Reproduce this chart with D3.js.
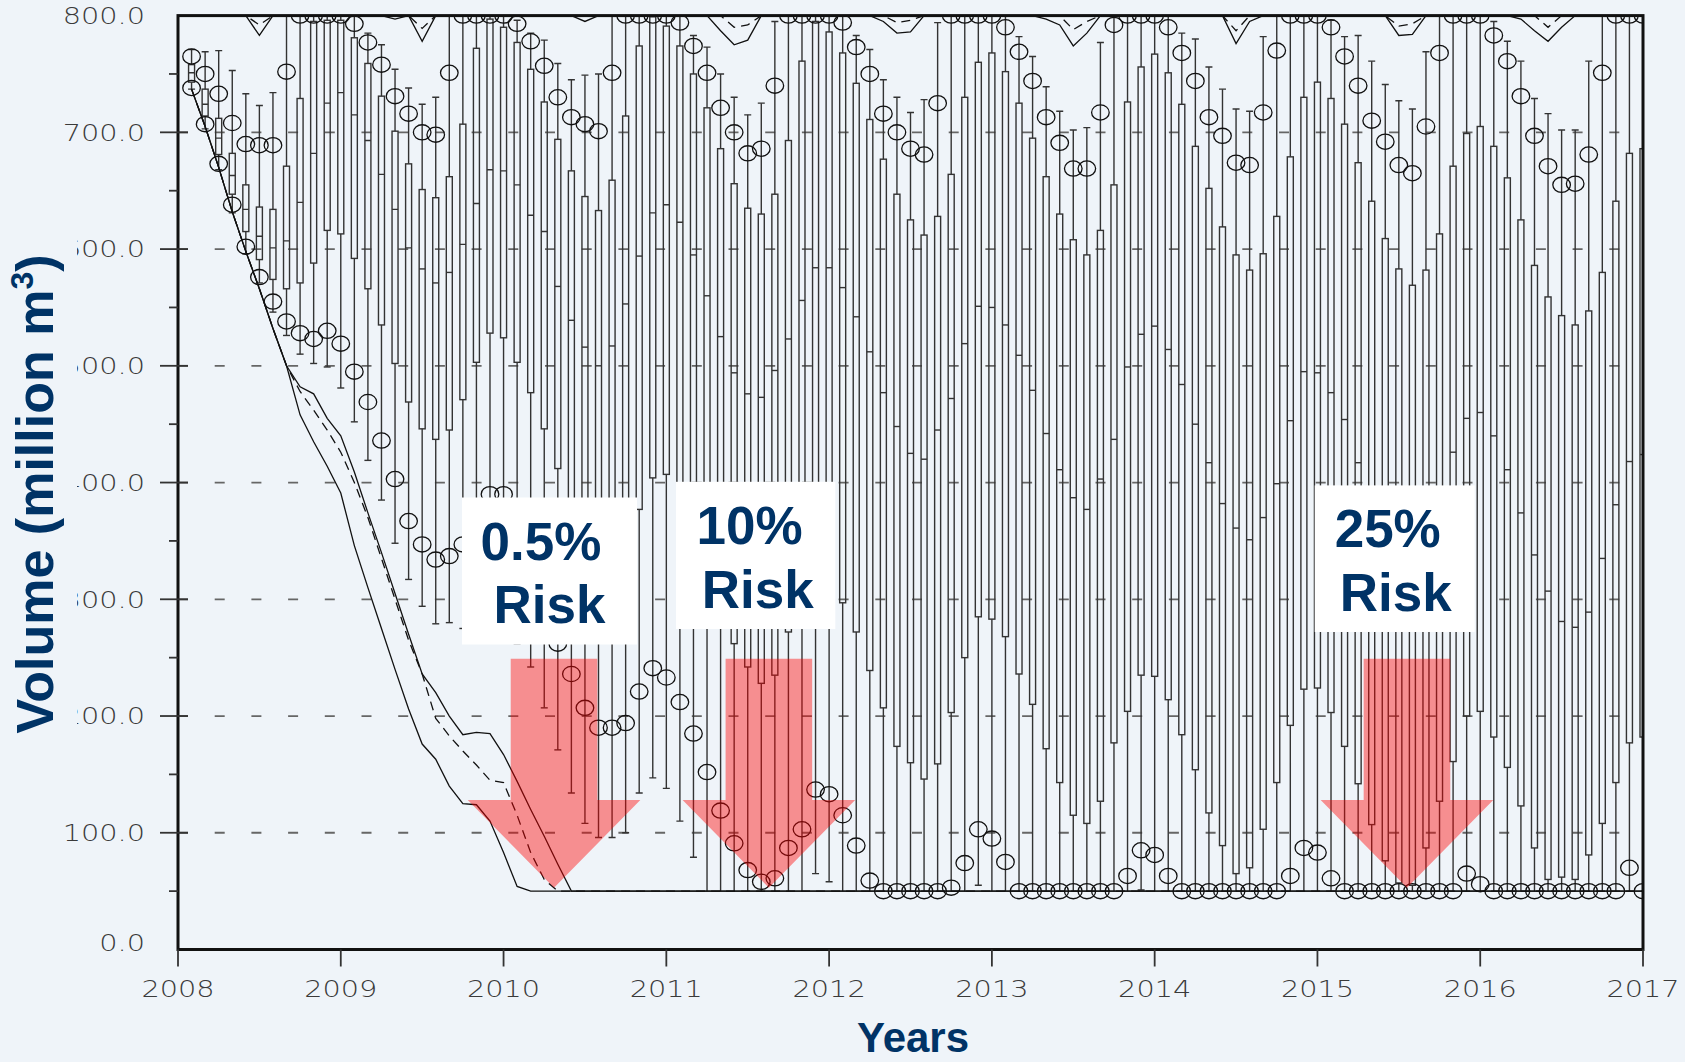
<!DOCTYPE html>
<html>
<head>
<meta charset="utf-8">
<script src="https://cdn.jsdelivr.net/npm/d3@7"></script>
<style>
  html, body { margin: 0; padding: 0; background: #eff4f9; }
  svg { display: block; }
</style>
</head>
<body>
<svg id="chart" width="1685" height="1062"></svg>
<script>
// Monthly reservoir volume statistics, months 1..108 (Jan 2008 .. Dec 2016)
var upperCircle = [765,750,733,708,690,689,689,752,800,800,800,800,793,777,758,731,716,700,698,751,800,800,800,800,793,778,757,730,713,707,
  701,751,800,800,800,800,794,774,751,721,700,682,686,740,800,800,800,800,794,773,750,716,700,686,681,725,800,800,800,800,
  790,769,744,713,691,669,669,717,792,800,800,800,790,768,744,713,697,674,672,717,770,800,800,800,790,765,740,710,692,672,
  665,705,768,800,800,800,783,761,731,697,671,655,656,681,751,800,800,800];
var upperWhisker = [771,769,770,753,733,723,734,800,800,800,800,800,800,785,775,754,738,724,730,800,800,800,800,800,796,785,779,759,745,749,
  750,800,800,800,800,800,799,783,773,750,730,715,725,795,800,800,800,800,800,783,771,745,730,717,728,794,800,800,800,800,
  800,782,765,739,718,702,704,777,800,800,800,800,800,785,780,756,737,720,718,782,800,800,800,800,796,782,783,761,741,727,
  720,769,800,800,800,800,795,778,761,729,716,702,702,761,800,800,800,800];
var q3 = [758,737,712,682,655,636,634,671,729,795,796,796,781,759,731,701,673,651,644,662,707,772,797,790,777,754,726,694,667,645,
  633,659,714,774,799,791,774,750,721,686,656,635,630,647,693,761,795,786,768,742,711,677,647,625,612,628,664,730,760,768,
  752,725,695,662,630,608,595,616,655,726,756,767,751,724,688,652,619,595,582,596,628,679,730,743,729,707,674,641,609,583,
  569,582,613,671,699,705,688,661,625,586,559,543,535,547,580,641,682,686];
var median = [751,724,695,663,634,611,601,607,640,682,725,734,715,693,664,634,601,583,571,580,604,639,668,667,655,629,615,568,539,516,
  500,517,553,594,631,638,623,595,560,525,494,476,473,496,523,556,584,584,567,542,512,477,448,425,420,445,472,519,551,550,
  535,509,479,442,411,387,377,403,437,499,527,534,514,484,450,417,382,361,351,370,399,453,495,494,477,454,417,380,350,320,
  305,320,350,426,455,460,440,411,374,338,307,281,276,289,335,381,418,424];
var q1 = [743,714,681,647,615,591,574,566,571,588,616,613,592,566,535,502,469,446,437,445,471,503,528,524,503,477,446,412,375,365,
  355,360,370,377,404,407,390,355,320,290,262,242,228,235,272,290,310,320,297,272,239,207,174,160,146,159,203,250,285,283,
  268,236,210,172,143,115,108,127,177,204,235,234,214,184,154,117,89,65,70,103,143,192,223,224,203,174,142,107,76,57,
  55,87,127,161,200,204,182,156,123,87,60,62,60,81,108,143,177,182];
var lowerWhisker = [737,703,668,631,596,571,546,526,510,502,499,481,452,419,385,348,317,294,279,280,275,272,275,270,262,242,207,171,134,108,
  96,96,100,134,147,138,110,79,50,50,50,50,50,50,50,50,65,58,50,50,50,50,50,50,50,50,50,50,55,50,
  50,50,50,50,50,50,50,50,50,50,51,50,50,50,50,50,50,50,50,50,50,50,50,50,50,50,50,50,50,50,
  50,50,50,50,50,50,50,50,50,50,50,50,50,50,50,50,50,50];
var lowerCircle = [738,707,673,638,602,576,555,538,528,523,530,519,495,469,436,403,367,347,334,337,347,370,390,390,370,335,295,262,236,207,
  190,190,194,221,241,233,212,185,152,119,91,68,58,61,87,103,137,133,115,89,59,50,50,50,50,50,53,74,103,95,
  75,50,50,50,50,50,50,50,50,63,85,81,63,50,50,50,50,50,50,50,50,63,87,83,61,50,50,50,50,50,
  50,50,50,50,65,56,50,50,50,50,50,50,50,50,50,50,70,50];

// Trace lines as [month, volume]
var minTrace = [[1,737],[2,705],[3,670],[4,632],[5,598],[6,566],[7,532],[8,500],[9,458],[10,435],[11,414],[12,391],[13,346],
  [14,310],[15,275],[16,240],[17,206],[18,176],[19,163],[20,140],[21,125],[22,124],[23,110],[24,83],[25,54],[26,50],[108,50]];
var dashTrace = [[1,737],[2,705],[3,670],[4,632],[5,598],[6,566],[7,532],[8,500],[9,478],[10,462],[11,445],[12,426],[13,400],
  [14,370],[15,335],[16,300],[17,265],[18,236],[19,198],[20,183],[21,170],[22,158],[23,145],[24,143],[25,115],[26,83],[27,60],[28,50],[108,50]];
var upperTrace = [[1,737],[2,705],[3,670],[4,632],[5,598],[6,566],[7,532],[8,500],[9,482],[10,476],[11,455],[12,440],[13,409],
  [14,374],[15,340],[16,305],[17,270],[18,236],[19,220],[20,200],[21,184],[22,186],[23,185],[24,167],[25,144],[26,120],[27,97],[28,73],[29,50],[108,50]];
var maxTrace = [[1,800],[5,800],[6,783],[7,800],[15,800],[16,797],[17,800],[18,778],[19,800],[29,800],[30,795],[31,800],[39,800],
  [40,787],[41,775],[42,779],[43,800],[51,800],[52,795],[53,785],[54,786],[55,800],[63,800],[64,797],[65,792],[66,774],[67,785],[68,800],
  [77,800],[78,776],[79,795],[80,800],[89,800],[90,783],[91,784],[92,800],[98,800],[99,797],[100,787],[101,778],[102,790],[103,800],[108,800]];
var maxDashTrace = [[1,800],[5,800],[6,792],[7,800],[17,800],[18,789],[19,800],[40,800],[41,790],[42,792],[43,800],[52,800],[53,794],
  [54,796],[55,800],[65,800],[66,788],[67,795],[68,800],[77,800],[78,787],[79,800],[89,800],[90,791],[91,793],[92,800],[100,800],[101,790],[102,800],[108,800]];

var yearTicks = [2008,2009,2010,2011,2012,2013,2014,2015,2016,2017];
var yMajor = [100,200,300,400,500,600,700,800];
var yMinor = [50,150,250,350,450,550,650,750];
var yLabels = [0,100,200,300,400,500,600,700,800];

var riskLabels = [
  {top: "0.5%", bottom: "Risk", arrowYear: 2010.31},
  {top: "10%", bottom: "Risk", arrowYear: 2011.63},
  {top: "25%", bottom: "Risk", arrowYear: 2015.55}
];

// ---- layout ----
var svg = d3.select("#chart");
var navy = "#003366";
var bg = "#eff4f9";

var x = d3.scaleLinear().domain([2008, 2017]).range([178, 1643]);
var y = d3.scaleLinear().domain([0, 800]).range([949.5, 15.6]);
function mx(m) { return x(2008 + m / 12); }

var stats = upperCircle.map(function(d, i) {
  return {m: i + 1, hi: d, whi: upperWhisker[i], q3: q3[i], med: median[i],
          q1: q1[i], wlo: lowerWhisker[i], lo: lowerCircle[i]};
});

svg.append("rect").attr("width", 1685).attr("height", 1062).attr("fill", bg);

svg.append("clipPath").attr("id", "plotClip")
  .append("rect")
  .attr("x", x(2008)).attr("y", y(800))
  .attr("width", x(2017) - x(2008)).attr("height", y(0) - y(800));

// dashed grid
svg.append("g").selectAll("line").data(yMajor.filter(function(v) { return v < 800; }))
  .enter().append("line")
  .attr("x1", x(2008)).attr("x2", x(2017))
  .attr("y1", function(d) { return y(d); }).attr("y2", function(d) { return y(d); })
  .attr("stroke", "#666").attr("stroke-width", 1.8)
  .attr("stroke-dasharray", "10,26.7");

var plot = svg.append("g").attr("clip-path", "url(#plotClip)");

// boxes and whiskers
var months = plot.append("g").selectAll("g").data(stats).enter().append("g")
  .attr("stroke", "#333").attr("stroke-width", 1.4).attr("fill", "none");

months.append("line")
  .attr("x1", function(d) { return mx(d.m); }).attr("x2", function(d) { return mx(d.m); })
  .attr("y1", function(d) { return y(d.q3); }).attr("y2", function(d) { return y(d.whi); });
months.append("line")
  .attr("x1", function(d) { return mx(d.m); }).attr("x2", function(d) { return mx(d.m); })
  .attr("y1", function(d) { return y(d.q1); }).attr("y2", function(d) { return y(d.wlo); });
months.filter(function(d) { return d.whi < 799; }).append("line")
  .attr("x1", function(d) { return mx(d.m) - 3.5; }).attr("x2", function(d) { return mx(d.m) + 3.5; })
  .attr("y1", function(d) { return y(d.whi); }).attr("y2", function(d) { return y(d.whi); });
months.filter(function(d) { return d.wlo > 50.5; }).append("line")
  .attr("x1", function(d) { return mx(d.m) - 3.5; }).attr("x2", function(d) { return mx(d.m) + 3.5; })
  .attr("y1", function(d) { return y(d.wlo); }).attr("y2", function(d) { return y(d.wlo); });
months.append("rect")
  .attr("x", function(d) { return mx(d.m) - 3; }).attr("width", 6)
  .attr("y", function(d) { return y(d.q3); })
  .attr("height", function(d) { return y(d.q1) - y(d.q3); });
months.append("line")
  .attr("x1", function(d) { return mx(d.m) - 3; }).attr("x2", function(d) { return mx(d.m) + 3; })
  .attr("y1", function(d) { return y(d.med); }).attr("y2", function(d) { return y(d.med); });

// trace lines
var line = d3.line()
  .x(function(d) { return mx(d[0]); })
  .y(function(d) { return y(d[1]); });

[[minTrace, null], [dashTrace, "9,6"], [upperTrace, null], [maxTrace, null], [maxDashTrace, "9,6"]]
  .forEach(function(t) {
    plot.append("path").datum(t[0])
      .attr("d", line)
      .attr("fill", "none").attr("stroke", "#111").attr("stroke-width", 1.3)
      .attr("stroke-dasharray", t[1]);
  });

// circles
var circles = plot.append("g").attr("fill", "none").attr("stroke", "#111").attr("stroke-width", 1.3);
circles.selectAll("ellipse.hi").data(stats).enter().append("ellipse")
  .attr("class", "hi")
  .attr("cx", function(d) { return mx(d.m); }).attr("cy", function(d) { return y(d.hi); })
  .attr("rx", 8.8).attr("ry", 7.6);
circles.selectAll("ellipse.lo").data(stats).enter().append("ellipse")
  .attr("class", "lo")
  .attr("cx", function(d) { return mx(d.m); }).attr("cy", function(d) { return y(d.lo); })
  .attr("rx", 8.8).attr("ry", 7.6);

// frame
svg.append("rect")
  .attr("x", x(2008)).attr("y", y(800))
  .attr("width", x(2017) - x(2008)).attr("height", y(0) - y(800))
  .attr("fill", "none").attr("stroke", "#111").attr("stroke-width", 3);

// y ticks
svg.append("g").selectAll("line").data(yMajor.filter(function(v) { return v < 800; }))
  .enter().append("line")
  .attr("x1", x(2008) - 18).attr("x2", x(2008) + 10)
  .attr("y1", function(d) { return y(d); }).attr("y2", function(d) { return y(d); })
  .attr("stroke", "#333").attr("stroke-width", 1.8);
svg.append("g").selectAll("line").data(yMinor)
  .enter().append("line")
  .attr("x1", x(2008) - 9).attr("x2", x(2008))
  .attr("y1", function(d) { return y(d); }).attr("y2", function(d) { return y(d); })
  .attr("stroke", "#333").attr("stroke-width", 1.8);

// x ticks
svg.append("g").selectAll("line").data(yearTicks)
  .enter().append("line")
  .attr("x1", function(d) { return x(d); }).attr("x2", function(d) { return x(d); })
  .attr("y1", y(0)).attr("y2", y(0) + 17)
  .attr("stroke", "#333").attr("stroke-width", 1.8);

// tick labels: wide light face, glyphs stretched horizontally
var tickFamily = "'DejaVu Sans', sans-serif";
var tickStretch = 1.25;
svg.append("g").selectAll("text").data(yLabels).enter().append("text")
  .attr("transform", function(d) {
    return "translate(145," + (d === 0 ? y(d) - 7 : y(d)) + ") scale(" + tickStretch + ",1)";
  })
  .attr("dy", "0.36em")
  .attr("text-anchor", "end")
  .attr("font-family", tickFamily).attr("font-size", 23).attr("font-weight", 200)
  .attr("fill", "#3a3a3a")
  .text(function(d) { return d3.format(".1f")(d); });

svg.append("g").selectAll("text").data(yearTicks).enter().append("text")
  .attr("transform", function(d) {
    return "translate(" + x(d) + ",996.5) scale(" + tickStretch + ",1)";
  })
  .attr("text-anchor", "middle")
  .attr("font-family", tickFamily).attr("font-size", 23).attr("font-weight", 200)
  .attr("fill", "#3a3a3a")
  .text(function(d) { return d; });

// risk arrows
var shaftHalf = 43.3, headHalf = 86.3;
svg.append("g").selectAll("path").data(riskLabels).enter().append("path")
  .attr("d", function(d) {
    var cx = x(d.arrowYear), top = y(249), shoulder = y(128), tip = y(53);
    return "M" + (cx - shaftHalf) + "," + top +
      "L" + (cx + shaftHalf) + "," + top +
      "L" + (cx + shaftHalf) + "," + shoulder +
      "L" + (cx + headHalf) + "," + shoulder +
      "L" + cx + "," + tip +
      "L" + (cx - headHalf) + "," + shoulder +
      "L" + (cx - shaftHalf) + "," + shoulder + "Z";
  })
  .attr("fill", "#ff0000").attr("fill-opacity", 0.42);

// risk label boxes
var boxes = [
  {x0: 462, y0: 497.5, x1: 637, y1: 644.5, c1: 541, b1: 559.6, c2: 549.5, b2: 622.7},
  {x0: 676, y0: 481.8, x1: 835.3, y1: 629, c1: 749.5, b1: 544.2, c2: 757.8, b2: 607.8},
  {x0: 1314.7, y0: 485.4, x1: 1474.7, y1: 632, c1: 1387.7, b1: 547.2, c2: 1395.7, b2: 610.8}
];
var labelG = svg.append("g").selectAll("g").data(riskLabels).enter().append("g");
labelG.append("rect")
  .attr("x", function(d, i) { return boxes[i].x0; })
  .attr("y", function(d, i) { return boxes[i].y0; })
  .attr("width", function(d, i) { return boxes[i].x1 - boxes[i].x0; })
  .attr("height", function(d, i) { return boxes[i].y1 - boxes[i].y0; })
  .attr("fill", "#fff");
labelG.append("text")
  .attr("x", function(d, i) { return boxes[i].c1; })
  .attr("y", function(d, i) { return boxes[i].b1; })
  .attr("text-anchor", "middle")
  .attr("font-family", "'Liberation Sans', Arial, sans-serif").attr("font-weight", "bold")
  .attr("font-size", 53).attr("fill", navy)
  .text(function(d) { return d.top; });
labelG.append("text")
  .attr("x", function(d, i) { return boxes[i].c2; })
  .attr("y", function(d, i) { return boxes[i].b2; })
  .attr("text-anchor", "middle")
  .attr("font-family", "'Liberation Sans', Arial, sans-serif").attr("font-weight", "bold")
  .attr("font-size", 53).attr("fill", navy)
  .text(function(d) { return d.bottom; });

// axis titles
svg.append("rect").attr("x", 0).attr("y", 225).attr("width", 77).attr("height", 540).attr("fill", bg);

var yTitle = svg.append("text")
  .attr("transform", "translate(53,494) rotate(-90)")
  .attr("text-anchor", "middle")
  .attr("font-family", "'Liberation Sans', Arial, sans-serif").attr("font-weight", "bold")
  .attr("font-size", 52).attr("fill", navy);
yTitle.append("tspan").text("Volume (million m");
yTitle.append("tspan").attr("font-size", 32).attr("dy", -20).text("3");
yTitle.append("tspan").attr("dy", 20).text(")");

svg.append("text")
  .attr("x", 913).attr("y", 1052)
  .attr("text-anchor", "middle")
  .attr("font-family", "'Liberation Sans', Arial, sans-serif").attr("font-weight", "bold")
  .attr("font-size", 42).attr("fill", navy)
  .text("Years");
</script>
</body>
</html>
